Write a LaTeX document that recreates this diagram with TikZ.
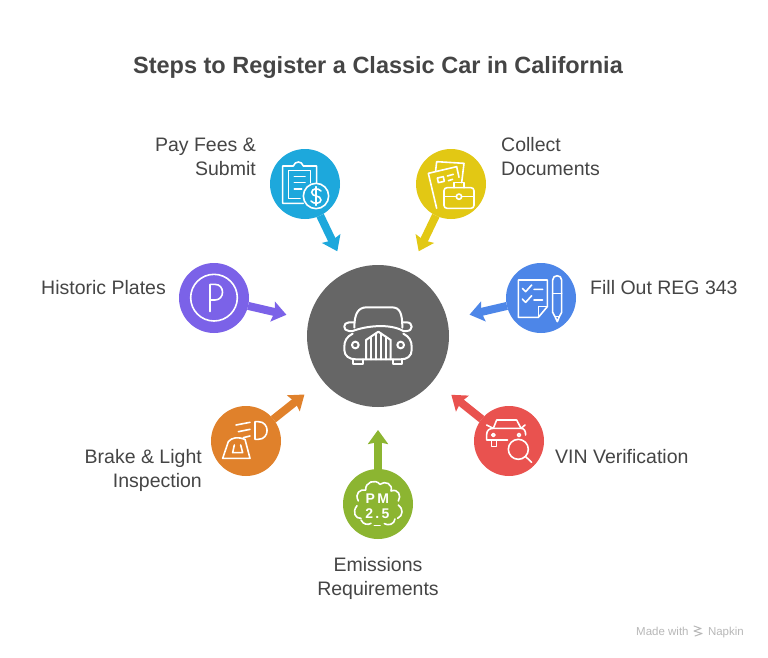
\documentclass[tikz,border=0pt]{standalone}
\usepackage{fontspec}
\setmainfont{Liberation Sans}
\usetikzlibrary{arrows.meta}
\usetikzlibrary{calc}
\definecolor{paycol}{HTML}{1DA8DC}
\definecolor{collectcol}{HTML}{E2C814}
\definecolor{regcol}{HTML}{4D86E8}
\definecolor{vincol}{HTML}{E9524F}
\definecolor{pmcol}{HTML}{8CB531}
\definecolor{brakecol}{HTML}{E0812B}
\definecolor{platecol}{HTML}{7B62E8}
\definecolor{hubcol}{HTML}{666666}
\definecolor{textcol}{HTML}{454545}
\definecolor{markcol}{HTML}{B8B8B8}
\tikzstyle{every path}=[line cap=round,line join=round]
\tikzstyle{stepdot}=[circle,minimum size=70pt,inner sep=0pt,outer sep=0pt]
\tikzstyle{hubdot}=[circle,minimum size=142pt,inner sep=0pt,outer sep=0pt,fill=hubcol]
\tikzstyle{steparrow}=[line width=8pt,line cap=butt,shorten >=23pt,-{Stealth[length=14pt,width=20pt,inset=2pt]}]
\tikzstyle{steplabel}=[text=textcol,font=\fontsize{19.5}{24}\selectfont,inner sep=0pt]
\tikzstyle{icon}=[white,line width=1.6pt]
\begin{document}
\begin{tikzpicture}[x=1pt,y=-1pt]
 \useasboundingbox (0,0) rectangle (768,658);
 \fill[white] (0,0) rectangle (768,658);

 \node[text=textcol,font=\fontsize{23.5}{28}\selectfont\bfseries,inner sep=0pt] (title) at (378,67) {Steps to Register a Classic Car in California};

 \node[hubdot] (hub) at (378,336) {};
 \node[stepdot,fill=paycol] (pay) at (305,184) {};
 \node[stepdot,fill=collectcol] (collect) at (451,184) {};
 \node[stepdot,fill=regcol] (reg) at (541,298) {};
 \node[stepdot,fill=vincol] (vin) at (509,441) {};
 \node[stepdot,fill=pmcol] (pm) at (378,504) {};
 \node[stepdot,fill=brakecol] (brake) at (246,441) {};
 \node[stepdot,fill=platecol] (plate) at (214,298) {};

 \draw[steparrow,paycol] (pay) -- (hub);
 \draw[steparrow,collectcol] (collect) -- (hub);
 \draw[steparrow,regcol] (reg) -- (hub);
 \draw[steparrow,vincol] (vin) -- (hub);
 \draw[steparrow,pmcol] (pm) -- (hub);
 \draw[steparrow,brakecol] (brake) -- (hub);
 \draw[steparrow,platecol] (plate) -- (hub);

 \node[steplabel,anchor=east,align=right] (paytext) at (256,157) {Pay Fees \&\\Submit};
 \node[steplabel,anchor=west,align=left] (collecttext) at (501,157) {Collect\\Documents};
 \node[steplabel,anchor=west] (regtext) at (590,288) {Fill Out REG 343};
 \node[steplabel,anchor=west] (vintext) at (555,457) {VIN Verification};
 \node[steplabel,align=center] (pmtext) at (378,578.5) {Emissions\\Requirements};
 \node[steplabel,anchor=east,align=right] (braketext) at (202,470.5) {Brake \& Light\\Inspection};
 \node[steplabel,anchor=east] (platetext) at (166,288) {Historic Plates};

 \begin{scope}[shift={(170,255)},scale=1/3,icon,line width=2pt]
  \draw (553,218) .. controls (553,175) and (565,157) .. (590,157) -- (665,157) .. controls (690,157) and (697,175) .. (697,218);
  \draw (553,202) -- (537,202) .. controls (518,202) and (518,228) .. (537,228) -- (548,228);
  \draw (697,202) -- (710,202) .. controls (730,202) and (730,228) .. (710,228) -- (700,228);
  \draw (548,228) .. controls (590,212) and (660,205) .. (700,228);
  \draw (548,236) .. controls (530,245) and (523,258) .. (523,275) -- (523,285) .. controls (523,303) and (538,313) .. (558,313) -- (692,313) .. controls (712,313) and (725,303) .. (725,285) -- (725,275) .. controls (725,258) and (718,245) .. (700,236);
  \draw (588,313) -- (588,255) -- (625,230) -- (662,255) -- (662,313);
  \draw (604,313) -- (604,245) (619,313) -- (619,235) (633,313) -- (633,235) (648,313) -- (648,245);
  \draw (556,270) circle (10);
  \draw (692,270) circle (10);
  \draw (550,313) -- (550,328) -- (578,328) -- (578,313);
  \draw (670,313) -- (670,328) -- (697,328) -- (697,313);
 \end{scope}

 \begin{scope}[shift={(260,140)},scale=1/3,icon]
  \draw (130,190) -- (68,190) -- (68,78) -- (100,78) .. controls (105,62) and (125,62) .. (130,78) -- (170,78) -- (170,128);
  \draw (120,175) -- (85,175) -- (85,92) -- (152,92) -- (152,128);
  \draw (103,110) -- (135,110) (103,128) -- (135,128) (103,147) -- (125,147);
  \draw (168,168) circle (38);
  \draw (183,153) .. controls (175,143) and (155,145) .. (155,157) .. controls (155,172) and (183,164) .. (183,180) .. controls (183,192) and (160,193) .. (153,183);
  \draw (168,140) -- (168,196);
 \end{scope}

 \begin{scope}[shift={(260,140)},scale=1/3,icon]
  \draw (527,92) -- (530,65) -- (612,70) -- (605,128);
  \draw (530,205) -- (505,100) -- (590,80) -- (597,112);
  \draw (532,114) -- (550,110) -- (553,124) -- (535,128) -- cycle;
  \draw (562,108) -- (580,103) (565,122) -- (578,118);
  \draw[rounded corners=3pt] (552,143) rectangle (642,205);
  \draw (582,143) -- (582,128) -- (612,128) -- (612,143);
  \draw (552,170) -- (589,170) (605,170) -- (642,170);
  \draw (597,170) circle (8);
 \end{scope}

 \begin{scope}[shift={(170,255)},scale=1/3,icon]
  \draw (132,128) circle (70);
  \draw (120,170) -- (120,88) -- (135,88) .. controls (165,88) and (165,135) .. (135,135) -- (120,135);
 \end{scope}

 \begin{scope}[shift={(460,255)},scale=1/3,icon]
  \draw (175,75) -- (262,75) -- (262,155) -- (235,187) -- (175,187) -- cycle;
  \draw (235,187) -- (235,155) -- (262,155);
  \draw (187,100) -- (197,110) -- (215,90) (222,103) -- (248,103);
  \draw (187,132) -- (197,142) -- (215,122) (222,135) -- (248,135);
  \draw (278,172) -- (278,75) .. controls (278,58) and (305,58) .. (305,75) -- (305,172) -- (298,185) -- (292,200) -- (285,185) -- cycle;
  \draw (278,115) -- (305,115) (285,185) -- (298,185);
 \end{scope}

 \begin{scope}[shift={(445,385)},scale=1/3,icon]
  \draw (145,130) -- (155,105) -- (215,105) -- (228,130);
  \draw (125,120) -- (145,130) (240,120) -- (228,130);
  \draw (188,165) -- (125,165) -- (125,148) .. controls (125,135) and (135,130) .. (145,130) -- (228,130) .. controls (238,130) and (242,138) .. (242,150);
  \draw (140,165) -- (140,185) -- (155,185) -- (155,165);
  \draw (145,150) circle (5);
  \draw (222,150) circle (5);
  \draw (220,193) circle (30);
  \draw (241,214) -- (260,232);
 \end{scope}

 \begin{scope}[shift={(335,425)},scale=1/3,icon]
  \draw (70,228) .. controls (58,205) and (75,192) .. (92,195) .. controls (90,172) and (120,160) .. (135,178) .. controls (150,165) and (175,178) .. (168,198) .. controls (190,190) and (200,212) .. (190,228);
  \draw (66,242) .. controls (50,262) and (62,282) .. (78,280);
  \draw (78,285) .. controls (85,300) and (100,300) .. (108,295);
  \draw (118,301) -- (135,301);
  \draw (148,296) .. controls (160,303) and (178,298) .. (180,282);
  \draw (188,280) .. controls (205,272) and (205,250) .. (190,240);
  \node[white,font=\fontsize{14}{14}\selectfont\bfseries,inner sep=0pt] (pmword) at (127,222) {P\,M};
  \node[white,font=\fontsize{14}{14}\selectfont\bfseries,inner sep=0pt] (pmvalue) at (127,267) {2\,.\,5};
 \end{scope}

 \begin{scope}[shift={(200,390)},scale=1/3,icon]
  \draw (165,95) -- (175,95) .. controls (210,95) and (210,148) .. (175,148) -- (165,148) -- cycle;
  \draw (108,105) -- (150,97) (115,125) -- (150,118) (130,143) -- (150,138);
  \draw (68,205) -- (85,155) .. controls (95,142) and (115,140) .. (135,148) -- (150,205) -- cycle;
  \draw (103,165) -- (98,188) -- (128,188) -- (122,165);
 \end{scope}

 \node[text=markcol,font=\fontsize{11.5}{14}\selectfont,inner sep=0pt,anchor=base west] (madewith) at (636,635) {Made with};
 \node[text=markcol,font=\fontsize{11.5}{14}\selectfont,inner sep=0pt,anchor=base east] (napkin) at (744,635) {Napkin};
 \draw[markcol,line width=1pt] (694,626) -- (701,628.5) -- (694,631) -- (702,633.5) -- (695,636);
\end{tikzpicture}
\end{document}
